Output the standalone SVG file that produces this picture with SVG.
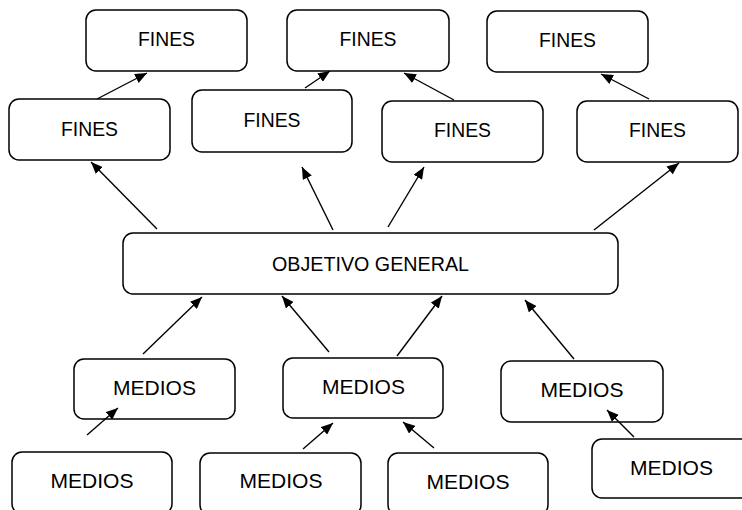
<svg xmlns="http://www.w3.org/2000/svg" width="742" height="510" viewBox="0 0 742 510">
<defs>
<style>
.box{fill:#ffffff;stroke:#000000;stroke-width:1.5}
.lbl{font-family:"Liberation Sans",Arial,sans-serif;font-size:20px;fill:#000000;text-anchor:middle}
.arr{stroke:#000000;stroke-width:1.4;fill:none;marker-end:url(#ah)}
</style>
<marker id="ah" markerUnits="userSpaceOnUse" markerWidth="12" markerHeight="10" refX="12" refY="5" orient="auto">
<path d="M0,0 L12,5 L0,10 z" fill="#000000"/>
</marker>
</defs>
<rect width="742" height="510" fill="#ffffff"/>
<g id="fines-top-1"><rect class="box" x="86" y="10" width="161" height="61" rx="10"/><text class="lbl" x="166.5" y="46" textLength="57" lengthAdjust="spacingAndGlyphs">FINES</text></g>
<g id="fines-top-2"><rect class="box" x="287" y="10" width="162" height="61" rx="10"/><text class="lbl" x="368" y="46" textLength="57" lengthAdjust="spacingAndGlyphs">FINES</text></g>
<g id="fines-top-3"><rect class="box" x="487" y="11" width="161" height="61" rx="10"/><text class="lbl" x="567.5" y="47" textLength="57" lengthAdjust="spacingAndGlyphs">FINES</text></g>
<g id="fines-1"><rect class="box" x="9" y="99" width="161" height="61" rx="10"/><text class="lbl" x="89.5" y="136" textLength="57" lengthAdjust="spacingAndGlyphs">FINES</text></g>
<g id="fines-2"><rect class="box" x="192" y="90" width="160" height="62" rx="10"/><text class="lbl" x="272" y="127" textLength="57" lengthAdjust="spacingAndGlyphs">FINES</text></g>
<g id="fines-3"><rect class="box" x="382" y="101" width="161" height="61" rx="10"/><text class="lbl" x="462.5" y="137" textLength="57" lengthAdjust="spacingAndGlyphs">FINES</text></g>
<g id="fines-4"><rect class="box" x="577" y="101" width="161" height="61" rx="10"/><text class="lbl" x="657.5" y="137" textLength="57" lengthAdjust="spacingAndGlyphs">FINES</text></g>
<g id="objetivo-general"><rect class="box" x="123" y="233" width="495" height="61" rx="10"/><text class="lbl" x="370.5" y="271" textLength="197" lengthAdjust="spacingAndGlyphs">OBJETIVO GENERAL</text></g>
<g id="medios-1"><rect class="box" x="74" y="359" width="161" height="60" rx="10"/><text class="lbl" x="154.5" y="395" textLength="83" lengthAdjust="spacingAndGlyphs">MEDIOS</text></g>
<g id="medios-2"><rect class="box" x="283" y="358" width="160" height="60" rx="10"/><text class="lbl" x="363.5" y="394" textLength="83" lengthAdjust="spacingAndGlyphs">MEDIOS</text></g>
<g id="medios-3"><rect class="box" x="501" y="361" width="162" height="61" rx="10"/><text class="lbl" x="582" y="397" textLength="83" lengthAdjust="spacingAndGlyphs">MEDIOS</text></g>
<g id="medios-4"><rect class="box" x="12" y="452" width="160" height="62" rx="10"/><text class="lbl" x="92" y="488" textLength="83" lengthAdjust="spacingAndGlyphs">MEDIOS</text></g>
<g id="medios-5"><rect class="box" x="200" y="453" width="161" height="62" rx="10"/><text class="lbl" x="281" y="488" textLength="83" lengthAdjust="spacingAndGlyphs">MEDIOS</text></g>
<g id="medios-6"><rect class="box" x="388" y="453" width="160" height="62" rx="10"/><text class="lbl" x="468" y="489" textLength="83" lengthAdjust="spacingAndGlyphs">MEDIOS</text></g>
<g id="medios-7"><rect class="box" x="592" y="439" width="160" height="59" rx="10"/><text class="lbl" x="671.5" y="475" textLength="83" lengthAdjust="spacingAndGlyphs">MEDIOS</text></g>
<g id="connectors">
<line class="arr" x1="97" y1="99" x2="147" y2="73"/>
<line class="arr" x1="305" y1="88" x2="330" y2="71"/>
<line class="arr" x1="454" y1="100" x2="404" y2="73"/>
<line class="arr" x1="649" y1="99" x2="601" y2="74"/>
<line class="arr" x1="157" y1="229" x2="91" y2="162"/>
<line class="arr" x1="333" y1="230" x2="302" y2="167"/>
<line class="arr" x1="388" y1="227" x2="424" y2="167"/>
<line class="arr" x1="594" y1="230" x2="679" y2="163"/>
<line class="arr" x1="143" y1="354" x2="202" y2="297"/>
<line class="arr" x1="329" y1="352" x2="282" y2="296"/>
<line class="arr" x1="397" y1="356" x2="442" y2="296"/>
<line class="arr" x1="574" y1="359" x2="525" y2="300"/>
<line class="arr" x1="87" y1="435" x2="118" y2="408"/>
<line class="arr" x1="303" y1="449" x2="333" y2="423"/>
<line class="arr" x1="434" y1="448" x2="403" y2="422"/>
<line class="arr" x1="634" y1="437" x2="607" y2="410"/>
</g>
</svg>
